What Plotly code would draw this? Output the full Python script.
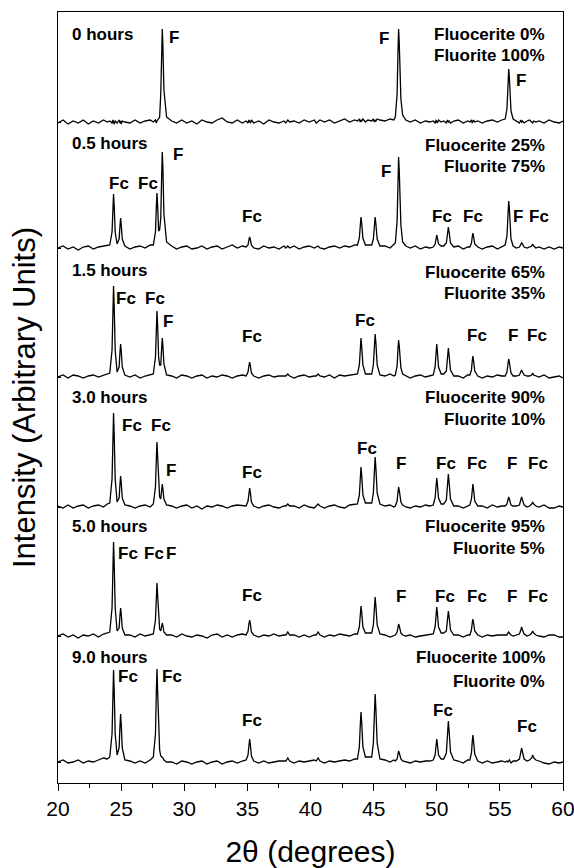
import plotly.graph_objects as go

# 2-theta grid (degrees)
two_theta = [
    20.0, 20.4, 20.8, 21.2, 21.6, 22.0, 22.4, 22.8, 23.2, 23.6, 23.9,
    24.10, 24.28, 24.35, 24.40, 24.45, 24.53, 24.68, 24.84, 24.91, 24.96, 25.01, 25.09, 25.30,
    25.7, 26.1, 26.5, 26.9, 27.3,
    27.55, 27.72, 27.79, 27.84, 27.89, 27.97, 28.05, 28.14, 28.21, 28.26, 28.31, 28.39, 28.60,
    29.0, 29.4, 29.8, 30.2, 30.6, 31.0, 31.4, 31.8, 32.2, 32.6, 33.0, 33.4, 33.8, 34.2, 34.6,
    34.90, 35.05, 35.12, 35.18, 35.24, 35.32, 35.50,
    35.9, 36.3, 36.7, 37.1, 37.5, 37.9,
    38.05, 38.20, 38.35,
    38.7, 39.1, 39.5, 39.9, 40.3,
    40.45, 40.60, 40.75,
    41.1, 41.5, 41.9, 42.3, 42.7, 43.1, 43.5,
    43.72, 43.87, 43.94, 44.00, 44.06, 44.15, 44.35, 44.55, 44.85, 44.98, 45.06, 45.12, 45.18, 45.28, 45.50,
    45.9, 46.3, 46.6,
    46.72, 46.86, 46.93, 46.98, 47.03, 47.09, 47.16, 47.30, 47.55,
    47.9, 48.3, 48.7, 49.1, 49.45,
    49.72, 49.87, 49.95, 50.00, 50.05, 50.14, 50.35, 50.55, 50.76, 50.85, 50.92, 50.99, 51.09, 51.35,
    51.7, 52.1, 52.45,
    52.62, 52.75, 52.81, 52.86, 52.92, 53.01, 53.25,
    53.6, 54.0, 54.4, 54.8, 55.15,
    55.42, 55.56, 55.64, 55.70, 55.75, 55.80, 55.88, 56.05,
    56.30, 56.55, 56.66, 56.72, 56.79, 56.92, 57.15,
    57.35, 57.52, 57.60, 57.68, 57.85,
    58.1, 58.5, 58.9, 59.3, 59.7, 60.0,
]

# Intensities (arbitrary units), one list per reaction time
int_0h = [
    -1, 2, -2, 1, -1, 2, -2, 1, -1, 2, 0,
    1, -1, 2, 0, -2, 1, -1, 2, -1, 1, -2, 1, 0,
    -1, 2, -1, 1, 2,
    0, 2, -1, 1, 2, 3, 5, 28, 70, 93, 76, 32, 5,
    1, -1, 2, -1, 1, -2, 2, 0, -1, 2, 4, 0, -1, 2, -1,
    1, -1, 2, 0, -1, 2, -1,
    1, -2, 2, 0, -1, 1,
    -1, 2, 0,
    1, -1, 2, 0, 2,
    -1, 1, 2,
    0, 2, -1, 1, 3, 0, 2,
    1, 3, 0, 2, 1, 3, 0, 2, 1, 3, 0, 2, 1, 3, 2,
    1, 3, 2,
    5, 28, 70, 93, 79, 51, 23, 7, 2,
    0, 2, -1, 1, 0,
    1, -1, 2, 0, -1, 2, 0, 1, -1, 2, 0, 1, -1, 1,
    2, -1, 1,
    0, 2, -1, 1, 2, 0, 1,
    -1, 1, 2, 0, 2,
    3, 13, 38, 53, 45, 29, 11, 3,
    1, -1, 2, 0, 1, -1, 1,
    2, 0, -1, 1, 0,
    1, -1, 2, 0, -1, 1,
]

int_05h = [
    0, 2, -1, 1, -2, 1, 2, -1, 1, 2, 3,
    3, 16, 40, 54, 42, 16, 4, 9, 22, 30, 23, 9, 2,
    -1, 1, 2, 0, 3,
    3, 16, 41, 55, 43, 17, 18, 30, 72, 96, 79, 34, 6,
    2, -1, 1, 2, -1, 0, 2, -1, 1, 2, -1, 1, 3, 0, 2,
    1, 3, 8, 11, 8, 3, 0,
    -1, 2, 0, 1, -1, 2,
    0, 2, 0,
    2, -1, 1, 2, 0,
    1, 2, 0,
    -1, 1, 2, 0, 2, 1, 3,
    3, 10, 22, 31, 24, 10, 3, 3, 3, 9, 22, 31, 24, 9, 2,
    2, 0, 3,
    5, 27, 68, 91, 77, 50, 23, 6, 2,
    0, 2, -1, 1, 0,
    1, 4, 10, 13, 10, 4, 2, 2, 5, 14, 21, 15, 5, 1,
    2, -1, 1,
    1, 5, 11, 15, 11, 4, 1,
    -1, 1, 2, -1, 1,
    3, 12, 34, 47, 40, 26, 9, 2,
    0, 1, 4, 5, 4, 1, 0,
    1, 2, 4, 2, 0,
    1, -1, 1, -1, 1, 0,
]

int_15h = [
    0, 2, -1, 2, 1, -1, 1, 2, 0, 2, 3,
    4, 27, 68, 91, 71, 27, 5, 10, 25, 33, 26, 10, 2,
    0, 2, -1, 1, 2,
    3, 20, 50, 66, 52, 20, 12, 12, 29, 39, 31, 13, 2,
    1, -1, 2, 1, -1, 1, 2, -1, 1, 0, 2, 1, -1, 1, 2,
    1, 5, 11, 15, 11, 4, 1,
    -1, 1, 2, 0, 1, 1,
    1, 3, 1,
    -1, 1, 2, 0, 1,
    1, 3, 1,
    0, 2, -1, 2, 1, 2, 3,
    3, 12, 28, 39, 30, 12, 3, 3, 3, 12, 31, 43, 34, 12, 2,
    1, 3, 1,
    2, 11, 28, 37, 31, 20, 9, 3, 1,
    -1, 1, 2, 0, 1,
    2, 10, 25, 33, 26, 10, 3, 3, 6, 19, 29, 20, 7, 1,
    1, -1, 2,
    2, 7, 16, 21, 16, 6, 1,
    -1, 1, 0, 2, 1,
    1, 5, 13, 18, 15, 10, 4, 1,
    1, 2, 5, 7, 5, 2, 1,
    1, 2, 4, 2, 1,
    0, 2, -1, 0, 1, -1,
]

int_30h = [
    1, -1, 2, -1, 1, 2, -1, 1, 2, 0, 3,
    4, 28, 70, 94, 73, 28, 5, 9, 23, 31, 24, 9, 2,
    1, -1, 1, 2, 0,
    3, 20, 49, 65, 51, 20, 10, 8, 17, 23, 18, 8, 2,
    1, -1, 1, 2, -1, 1, -2, 1, 0, 2, 1, -1, 1, 2, 1,
    1, 6, 14, 19, 14, 5, 1,
    -1, 1, 2, 0, -1, 1,
    1, 3, 1,
    1, -1, 2, 0, -1,
    1, 3, 1,
    -1, 1, 2, 0, -1, 2, 3,
    3, 12, 29, 40, 31, 12, 4, 4, 4, 14, 36, 50, 39, 14, 3,
    1, 2, 0,
    1, 6, 15, 20, 17, 11, 5, 2, 0,
    -1, 1, 0, 2, 1,
    2, 9, 22, 29, 23, 9, 3, 3, 7, 21, 33, 23, 8, 1,
    1, -1, 1,
    2, 8, 17, 23, 17, 6, 1,
    1, -1, 2, 0, 1,
    1, 3, 7, 10, 8, 6, 2, 1,
    1, 2, 7, 10, 7, 2, 0,
    1, 3, 5, 3, 1,
    0, 2, -1, -1, 1, 0,
]

int_50h = [
    0, 2, -1, 1, -2, 1, 0, 2, -1, 2, 3,
    4, 28, 70, 94, 73, 28, 5, 8, 21, 28, 22, 8, 1,
    1, -1, 2, 0, 1,
    2, 16, 40, 53, 41, 16, 7, 5, 10, 13, 10, 4, 1,
    1, -1, 2, 0, -1, 1, 0, -2, 1, 2, -1, 1, -1, 1, 2,
    1, 5, 12, 16, 12, 4, 1,
    -1, 1, 0, 2, 0, 1,
    1, 4, 1,
    1, -1, 1, -1, 1,
    1, 4, 1,
    -1, 1, 0, 2, 1, 0, 2,
    2, 9, 22, 30, 23, 9, 3, 3, 3, 11, 28, 39, 30, 11, 2,
    1, -1, 1,
    1, 4, 9, 12, 10, 7, 3, 1, 0,
    1, -1, 0, 1, 2,
    2, 9, 22, 29, 23, 9, 3, 3, 5, 16, 25, 18, 6, 1,
    1, -1, 1,
    1, 6, 13, 17, 13, 5, 1,
    -1, 1, 0, 1, 1,
    1, 1, 3, 4, 3, 2, 1, 0,
    1, 2, 6, 9, 6, 2, 0,
    1, 3, 5, 3, 1,
    0, -1, 1, 1, -1, -1,
]

int_90h = [
    0, 2, -1, 0, 2, -1, 1, 0, 2, 4, 3,
    5, 28, 69, 92, 72, 28, 7, 14, 36, 48, 37, 14, 2,
    1, -1, 1, -1, 2,
    5, 28, 70, 93, 72, 28, 12, 6, 5, 5, 4, 2, 0,
    0, -2, 1, 0, -2, 0, 1, -2, 0, 1, -2, 0, 1, -1, 1,
    2, 7, 17, 23, 17, 6, 1,
    -1, 1, -1, 0, 1, 1,
    1, 4, 1,
    -1, 1, 0, 1, 2,
    1, 4, 1,
    -1, 1, 0, 1, 2, 1, 3,
    3, 15, 36, 50, 39, 15, 5, 5, 5, 19, 49, 68, 53, 19, 3,
    2, 0, 2,
    1, 3, 8, 11, 9, 6, 3, 1, 0,
    -1, 1, 0, 1, 1,
    2, 7, 17, 23, 18, 7, 3, 3, 9, 27, 41, 29, 10, 2,
    1, -1, 2,
    2, 9, 20, 27, 20, 8, 1,
    -1, 1, -1, 0, 1,
    0, 1, 0, 1, 2, 1, -1, 1,
    1, 3, 10, 14, 10, 3, 1,
    2, 4, 7, 4, 2,
    1, -1, -2, 0, -1, 0,
]

hours_labels = ["0 hours", "0.5 hours", "1.5 hours", "3.0 hours", "5.0 hours", "9.0 hours"]
fluocerite_pct = [0, 25, 65, 90, 95, 100]
fluorite_pct = [100, 75, 35, 10, 5, 0]

series = [int_0h, int_05h, int_15h, int_30h, int_50h, int_90h]

# vertical stacking offsets (layout)
offsets = [661, 535, 406, 276, 147, 21]

fig = go.Figure()
for s, off in zip(series, offsets):
    assert len(s) == len(two_theta), (len(s), len(two_theta))
    fig.add_trace(go.Scatter(
        x=two_theta, y=[v + off for v in s], mode="lines",
        line=dict(color="black", width=1.3),
        showlegend=False, hoverinfo="skip",
    ))

FONT = "Liberation Sans, Arial, Helvetica, sans-serif"
ann = []
hour_y = [749, 640, 513, 386, 257, 126]
line1_y = [749, 638, 511, 386, 257, 126]
line2_y = [728, 617, 490, 364, 235, 102]
for i in range(6):
    ann.append(dict(x=20.95, y=hour_y[i], text="<b>%s</b>" % hours_labels[i],
                    xanchor="left", yanchor="middle"))
    ann.append(dict(x=58.73, y=line1_y[i], text="<b>Fluocerite %d%%</b>" % fluocerite_pct[i],
                    xanchor="right", yanchor="middle"))
    ann.append(dict(x=58.73, y=line2_y[i], text="<b>Fluorite %d%%</b>" % fluorite_pct[i],
                    xanchor="right", yanchor="middle"))

peak_labels = [
    ("F", 29.19, 746), ("F", 45.82, 745), ("F", 56.67, 703),
    ("Fc", 24.83, 600), ("Fc", 27.13, 600), ("F", 29.50, 629), ("Fc", 35.37, 567),
    ("F", 45.98, 612), ("Fc", 50.42, 567), ("Fc", 52.87, 567), ("F", 56.44, 567), ("Fc", 58.10, 567),
    ("Fc", 25.39, 485), ("Fc", 27.68, 485), ("F", 28.71, 462), ("Fc", 35.37, 447),
    ("Fc", 44.32, 463), ("Fc", 53.19, 448), ("F", 56.04, 448), ("Fc", 57.94, 448),
    ("Fc", 25.86, 358), ("Fc", 28.16, 358), ("F", 28.95, 313), ("Fc", 35.37, 311),
    ("Fc", 44.48, 335), ("F", 47.17, 320), ("Fc", 50.73, 320), ("Fc", 53.19, 320),
    ("F", 55.96, 320), ("Fc", 58.02, 320),
    ("Fc", 25.54, 230), ("Fc", 27.60, 230), ("F", 28.95, 230), ("Fc", 35.37, 188),
    ("F", 47.17, 187), ("Fc", 50.65, 187), ("Fc", 53.19, 187), ("F", 55.96, 187), ("Fc", 58.02, 187),
    ("Fc", 25.54, 107), ("Fc", 29.03, 107), ("Fc", 35.37, 63), ("Fc", 50.50, 73), ("Fc", 57.15, 57),
]
for t, x, y in peak_labels:
    ann.append(dict(x=x, y=y, text="<b>%s</b>" % t, xanchor="center", yanchor="middle"))

for a in ann:
    a.update(xref="x", yref="y", showarrow=False,
             font=dict(family=FONT, size=17, color="black"))

fig.update_layout(
    width=574, height=868,
    margin=dict(l=58, r=11, t=12, b=85, autoexpand=False),
    plot_bgcolor="white", paper_bgcolor="white",
    font=dict(family=FONT, color="black"),
    annotations=ann,
    xaxis=dict(
        range=[20, 60], tick0=20, dtick=5, ticks="outside", ticklen=7, tickwidth=1.3,
        tickcolor="black", showline=True, linewidth=1.3, linecolor="black", mirror=True,
        showgrid=False, zeroline=False, tickfont=dict(size=21, family=FONT),
        ticklabeloverflow="allow",
        minor=dict(ticks="outside", dtick=2.5, tick0=20, ticklen=4, tickwidth=1.3, tickcolor="black"),
        title=dict(text="2θ (degrees)", font=dict(size=30, family=FONT), standoff=22),
        automargin=False,
    ),
    yaxis=dict(
        range=[0, 771], showline=True, linewidth=1.3, linecolor="black", mirror=True,
        showgrid=False, zeroline=False, ticks="inside", tickvals=offsets, ticklen=3,
        tickwidth=1, tickcolor="black", showticklabels=False,
        title=dict(text="Intensity (Arbitrary Units)", font=dict(size=31, family=FONT), standoff=12),
        automargin=False,
    ),
)

fig.write_html("out.html")
